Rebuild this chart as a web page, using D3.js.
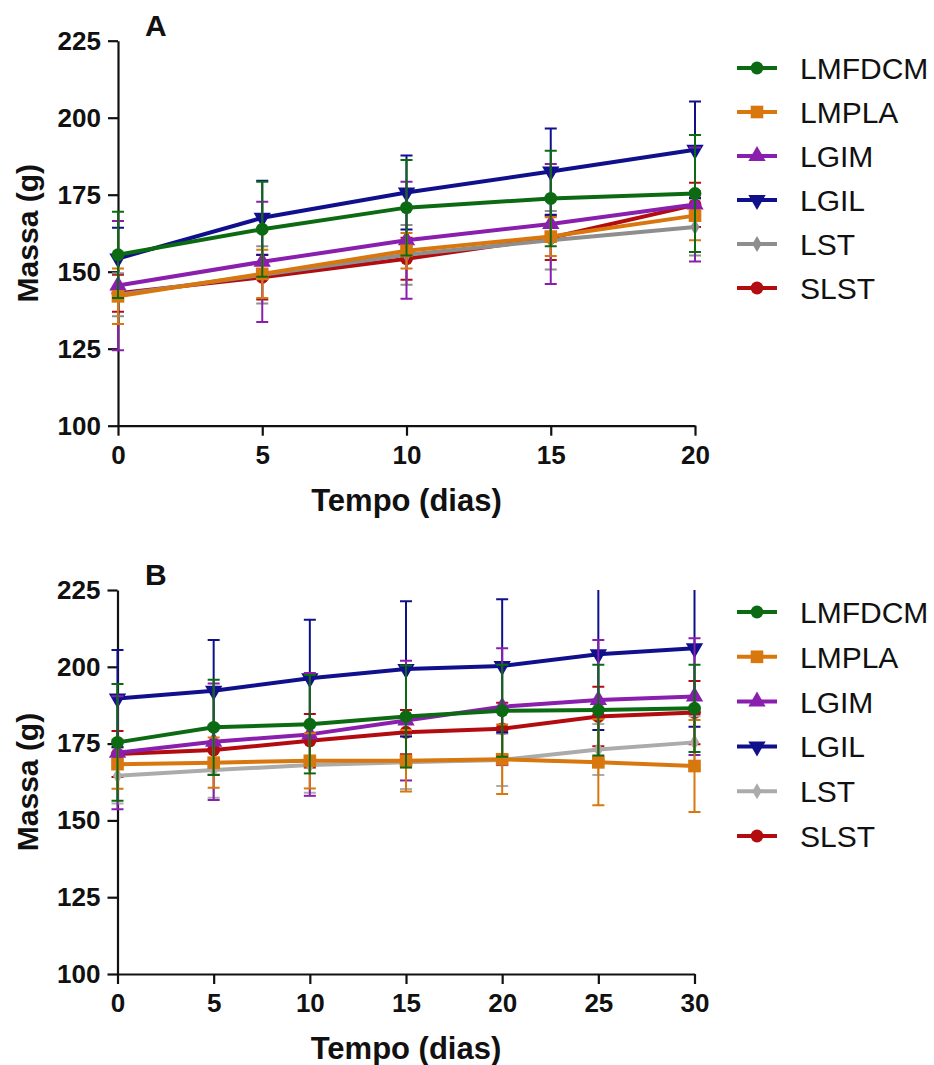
<!DOCTYPE html>
<html>
<head>
<meta charset="utf-8">
<script src="https://cdn.jsdelivr.net/npm/d3@7"></script>
<style>
  html, body { margin: 0; padding: 0; background: #fff; }
  svg { display: block; font-family: "Liberation Sans", Arial, sans-serif; }
</style>
</head>
<body>
<svg id="chart" width="934" height="1065"></svg>
<script>
// Groups, in legend order
const groups = ["LMFDCM", "LMPLA", "LGIM", "LGIL", "LST", "SLST"];

// Panel A: days 0–20
const daysA = [0, 5, 10, 15, 20];
const meanA = [
  [155.5, 163.8, 170.8, 173.8, 175.4],   // LMFDCM
  [142.0, 149.3, 156.8, 161.4, 168.2],   // LMPLA
  [145.5, 153.2, 160.2, 165.5, 171.8],   // LGIM
  [154.3, 167.5, 175.7, 182.5, 189.6],   // LGIL
  [142.5, 149.0, 155.5, 160.2, 164.5],   // LST
  [143.0, 148.2, 154.2, 161.0, 171.7]    // SLST
];
const sdA = [
  [14.0, 15.4, 15.5, 15.5, 19.0],
  [9.0, 7.8, 5.8, 6.3, 8.0],
  [21.0, 19.5, 19.0, 19.5, 18.5],
  [10.0, 12.0, 12.0, 14.0, 15.7],
  [7.0, 9.3, 9.7, 9.5, 9.2],
  [6.0, 7.2, 6.8, 7.2, 7.2]
];

// Panel B: days 0–30
const daysB = [0, 5, 10, 15, 20, 25, 30];
const meanB = [
  [175.4, 180.3, 181.3, 183.8, 185.7, 185.9, 186.5],   // LMFDCM
  [168.3, 168.8, 169.4, 169.4, 169.9, 168.9, 167.7],   // LMPLA
  [172.0, 175.6, 178.0, 182.5, 187.0, 189.2, 190.3],   // LGIM
  [189.7, 192.2, 196.3, 199.3, 200.3, 204.1, 206.0],   // LGIL
  [164.5, 166.4, 168.0, 168.9, 169.7, 173.1, 175.4],   // LST
  [171.6, 172.9, 175.9, 178.7, 179.8, 183.8, 185.1]    // SLST
];
const sdB = [
  [19.0, 15.5, 16.0, 16.6, 15.0, 14.8, 14.2],
  [8.0, 8.2, 9.0, 10.0, 11.3, 14.0, 15.0],
  [18.4, 19.0, 20.0, 19.5, 19.0, 19.5, 19.0],
  [15.8, 16.5, 19.0, 22.0, 21.7, 24.7, 25.5],
  [9.0, 9.0, 9.0, 8.7, 8.5, 8.3, 8.5],
  [7.5, 8.0, 8.7, 7.2, 8.5, 9.7, 10.3]
];

const massTicks = [100, 125, 150, 175, 200, 225];
const dayTicksA = [0, 5, 10, 15, 20];
const dayTicksB = [0, 5, 10, 15, 20, 25, 30];

const colorsA = ["#0c6b12", "#d9770f", "#8a1fae", "#10108c", "#8e8e8e", "#b20c10"];
const colorsB = ["#0c6b12", "#d9770f", "#8a1fae", "#10108c", "#ababab", "#b20c10"];

const symbols = [
  { type: d3.symbolCircle, size: 130, rot: 0 },
  { type: d3.symbolSquare, size: 160, rot: 0 },
  { type: d3.symbolTriangle, size: 130, rot: 0 },
  { type: d3.symbolTriangle, size: 130, rot: 180 },
  { type: d3.symbolDiamond, size: 75, rot: 0 },
  { type: d3.symbolCircle, size: 130, rot: 0 }
];

const svg = d3.select("#chart");
const FONT = '"Liberation Sans", Arial, sans-serif';

function drawPanel(opt) {
  const x = d3.scaleLinear().domain(opt.xDomain).range(opt.xRange);
  const y = d3.scaleLinear().domain([100, 225]).range(opt.yRange);
  const g = svg.append("g");

  const clipId = "clip-" + opt.letter;
  g.append("clipPath").attr("id", clipId)
    .append("rect")
    .attr("x", opt.xRange[0] - 30).attr("y", opt.yRange[1])
    .attr("width", opt.xRange[1] - opt.xRange[0] + 60)
    .attr("height", opt.yRange[0] - opt.yRange[1]);

  // Axes
  const yAxis = g.append("g")
    .attr("transform", `translate(${opt.xRange[0]},0)`)
    .call(d3.axisLeft(y).tickValues(massTicks).tickSize(10).tickSizeOuter(0).tickPadding(7));
  const xAxis = g.append("g")
    .attr("transform", `translate(0,${opt.yRange[0]})`)
    .call(d3.axisBottom(x).tickValues(opt.xTicks).tickSize(10).tickSizeOuter(0).tickPadding(10));
  [yAxis, xAxis].forEach(a => {
    a.selectAll("path.domain").attr("stroke", "#111").attr("stroke-width", 2.2);
    a.selectAll(".tick line").attr("stroke", "#111").attr("stroke-width", 2.2);
    a.selectAll(".tick text")
      .attr("fill", "#111").style("font-family", FONT)
      .style("font-size", "26px").style("font-weight", "bold");
  });

  // Axis titles
  g.append("text")
    .attr("x", (opt.xRange[0] + opt.xRange[1]) / 2)
    .attr("y", opt.yRange[0] + 85)
    .attr("text-anchor", "middle")
    .style("font-size", "31px").style("font-weight", "bold").attr("fill", "#111")
    .text("Tempo (dias)");
  g.append("text")
    .attr("transform", `translate(38,${(opt.yRange[0] + opt.yRange[1]) / 2}) rotate(-90)`)
    .attr("text-anchor", "middle")
    .style("font-size", "30px").style("font-weight", "bold").attr("fill", "#111")
    .text("Massa (g)");

  // Panel letter
  g.append("text")
    .attr("x", 145).attr("y", opt.yRange[1] - 5)
    .style("font-size", "30px").style("font-weight", "bold").attr("fill", "#111")
    .text(opt.letter);

  const line = d3.line().x(d => x(d.t)).y(d => y(d.v));
  const sym = d3.symbol();

  // Draw from last group to first so LMFDCM ends on top
  for (let i = groups.length - 1; i >= 0; i--) {
    const col = opt.colors[i];
    const pts = opt.days.map((t, j) => ({ t, v: opt.means[i][j], s: opt.sds[i][j] }));
    const sg = g.append("g");

    // Error bars (clipped to plot area)
    const eb = sg.append("g").attr("clip-path", `url(#${clipId})`)
      .attr("stroke", col).attr("stroke-width", 2).attr("fill", "none");
    pts.forEach(p => {
      const top = y(p.v + p.s), bot = y(p.v - p.s), cx = x(p.t);
      eb.append("line").attr("x1", cx).attr("x2", cx).attr("y1", top).attr("y2", bot);
      [top, bot].forEach(yy => {
        if (yy >= opt.yRange[1] && yy <= opt.yRange[0]) {
          eb.append("line").attr("x1", cx - 6).attr("x2", cx + 6).attr("y1", yy).attr("y2", yy);
        }
      });
    });

    // Mean line
    sg.append("path").datum(pts)
      .attr("d", line).attr("fill", "none")
      .attr("stroke", col).attr("stroke-width", 4).attr("stroke-linejoin", "round");

    // Markers
    sg.selectAll("path.mk").data(pts).join("path")
      .attr("class", "mk")
      .attr("d", sym.type(symbols[i].type).size(symbols[i].size)())
      .attr("transform", d => `translate(${x(d.t)},${y(d.v)}) rotate(${symbols[i].rot})`)
      .attr("fill", col);
  }

  // Legend
  const lg = g.append("g");
  groups.forEach((name, i) => {
    const cy = opt.legendY0 + i * opt.legendStep;
    const col = opt.colors[i];
    lg.append("line").attr("x1", 737).attr("x2", 777).attr("y1", cy).attr("y2", cy)
      .attr("stroke", col).attr("stroke-width", 4);
    lg.append("path")
      .attr("d", d3.symbol().type(symbols[i].type).size(symbols[i].size)())
      .attr("transform", `translate(757,${cy}) rotate(${symbols[i].rot})`)
      .attr("fill", col);
    lg.append("text").attr("x", 800).attr("y", cy + 11)
      .style("font-size", "30px").attr("fill", "#111").text(name);
  });
}

drawPanel({
  letter: "A", days: daysA, means: meanA, sds: sdA, colors: colorsA,
  xDomain: [0, 20], xTicks: dayTicksA, xRange: [118, 695], yRange: [425.7, 40.7],
  legendY0: 68, legendStep: 44
});
drawPanel({
  letter: "B", days: daysB, means: meanB, sds: sdB, colors: colorsB,
  xDomain: [0, 30], xTicks: dayTicksB, xRange: [117.5, 694.5], yRange: [974, 590],
  legendY0: 612, legendStep: 44.8
});
</script>
</body>
</html>
